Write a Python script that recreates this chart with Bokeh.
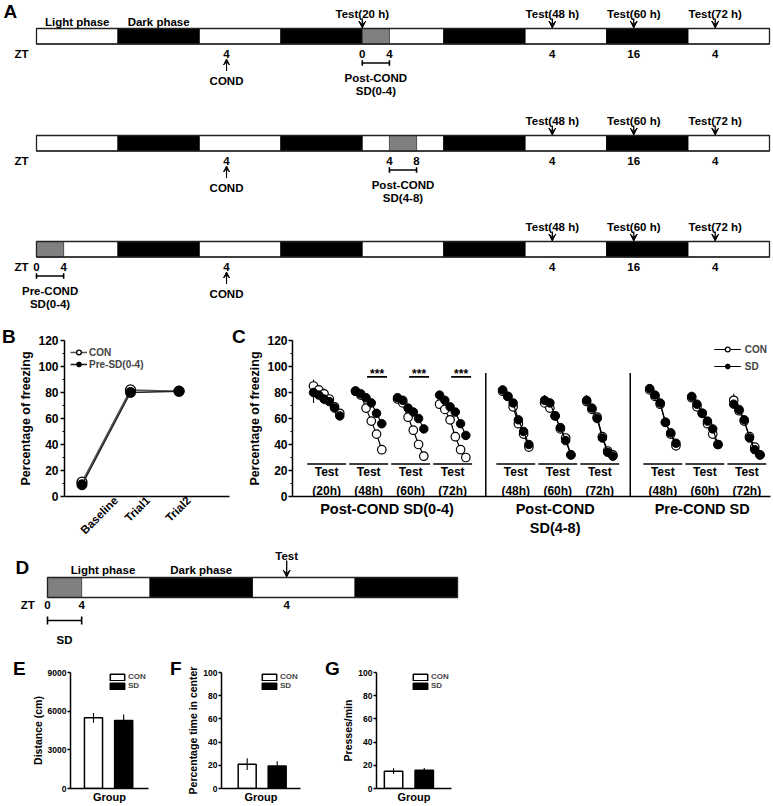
import math
from bokeh.plotting import figure
from bokeh.models import Range1d, FixedTicker, Legend, LegendItem, Arrow, VeeHead, Div
from bokeh.layouts import column, row
from bokeh.core.properties import value
from bokeh.embed import file_html
from bokeh.resources import INLINE

# ============================ DATA ============================
PHASE_HOURS = 12
# Panel A: three protocols, 12-h light/dark phases from ZT0 of day 1
A_phase_kinds = ["light", "dark", "light", "dark", "light", "dark", "light", "dark", "light"]
A_cond_hour = 28                                   # ZT4 of day 2
A_row_tests = [[20, 48, 60, 72], [48, 60, 72], [48, 60, 72]]   # hours after COND
A_row_sd = [(48, 52), (52, 56), (0, 4)]
A_row_sd_text = [["Post-COND", "SD(0-4)"], ["Post-COND", "SD(4-8)"], ["Pre-COND", "SD(0-4)"]]

# Panel D
D_phase_kinds = ["light", "dark", "light", "dark"]
D_sd = (0, 4)
D_test_hour = 28

# Panel B
B_categories = ["Baseline", "Trial1", "Trial2"]
B_con = [11, 82, 81]
B_con_err = [2, 3, 2]
B_pre_sd = [9, 80, 81]
B_pre_sd_err = [1, 2, 2]

# Panel C: six time bins per test session
C_group_names = ["Post-COND SD(0-4)", "Post-COND\nSD(4-8)", "Pre-COND SD"]
C_test_names = ["(20h)", "(48h)", "(60h)", "(72h)", "(48h)", "(60h)", "(72h)", "(48h)", "(60h)", "(72h)"]
C_test_group = [0, 0, 0, 0, 1, 1, 1, 2, 2, 2]
C_con = [
    [85, 82, 79, 75, 69, 64],
    [81, 78, 68, 58, 48, 36],
    [75, 72, 61, 51, 40, 31],
    [71, 67, 59, 46, 36, 30],
    [81, 77, 69, 56, 48, 38],
    [72, 68, 62, 52, 45, 32],
    [73, 67, 61, 46, 35, 32],
    [82, 77, 71, 57, 48, 39],
    [76, 69, 64, 56, 48, 40],
    [74, 66, 58, 46, 38, 32],
]
C_sd = [
    [80, 78, 75, 73, 68, 62],
    [81, 79, 76, 72, 64, 56],
    [76, 74, 68, 65, 60, 52],
    [78, 74, 69, 65, 56, 47],
    [82, 77, 72, 59, 50, 40],
    [74, 72, 62, 53, 43, 32],
    [74, 68, 60, 45, 34, 31],
    [83, 78, 72, 57, 49, 41],
    [77, 71, 64, 58, 52, 40],
    [71, 67, 59, 45, 36, 32],
]
C_con_err = [[5, 3, 4, 2, 2, 2]] + [[2] * 6] * 8 + [[5, 2, 2, 2, 2, 2]]
C_sd_err = [[8, 3, 4, 2, 2, 2], [2] * 6, [2] * 6, [2] * 6, [2] * 6,
            [4, 2, 2, 2, 2, 2], [4, 2, 2, 2, 2, 2], [3, 2, 2, 2, 2, 2], [2] * 6, [2] * 6]
C_significant = [False, True, True, True, False, False, False, False, False, False]

# Panels E-G
E_con, E_con_err, E_sd, E_sd_err = 5480, 380, 5280, 470
F_con, F_con_err, F_sd, F_sd_err = 21, 5, 19.5, 4
G_con, G_con_err, G_sd, G_sd_err = 14.9, 2.5, 15.7, 2

# ============================ STYLE ============================
FONT = "Liberation Sans"
GRAY = "#808080"
TXT = "11.5px"


def bold_text(p, xs, ys, texts, size, align="center", baseline="middle"):
    p.text(x=xs, y=ys, text=texts, text_font=value(FONT), text_font_size=value(size),
           text_font_style=value("bold"), text_align=value(align),
           text_baseline=value(baseline), text_color="black")


def style_axes(p, tick_size, label_size, tick_out=4):
    for ax in p.axis:
        ax.axis_line_width = 1.5
        ax.axis_line_color = "black"
        ax.major_label_text_font = FONT
        ax.major_label_text_font_style = "bold"
        ax.major_label_text_font_size = tick_size
        ax.major_label_text_color = "black"
        ax.axis_label_text_font = FONT
        ax.axis_label_text_font_style = "bold"
        ax.axis_label_text_font_size = label_size
        ax.axis_label_text_color = "black"
        ax.major_tick_line_width = 1.5
        ax.minor_tick_line_width = 1
        ax.major_tick_in = 0
        ax.major_tick_out = tick_out
        ax.minor_tick_in = 0
        ax.minor_tick_out = 2
        ax.major_label_standoff = 2
        ax.axis_label_standoff = 2
    p.grid.visible = False
    p.outline_line_color = None


def plain_fig(width, height, xr, yr):
    p = figure(width=width, height=height, x_range=Range1d(*xr), y_range=Range1d(*yr),
               x_axis_location=None, y_axis_location=None, toolbar_location=None,
               output_backend="svg", min_border=0)
    p.grid.visible = False
    p.outline_line_color = None
    return p


def letter_div(s, width, height, pad_left, pad_top):
    html = ('<div style="font-family:\'Liberation Sans\',Arial,sans-serif;font-weight:bold;'
            f'font-size:19px;line-height:19px;color:#000;margin:0;'
            f'padding-left:{pad_left}px;padding-top:{pad_top}px;">{s}</div>')
    return Div(text=html, width=width, height=height, margin=0)


def draw_bar(p, kinds, top, height, sd):
    n = len(kinds)
    lefts = [i * PHASE_HOURS for i in range(n)]
    rights = [(i + 1) * PHASE_HOURS for i in range(n)]
    fills = ["white" if k == "light" else "black" for k in kinds]
    p.quad(left=lefts, right=rights, top=[top] * n, bottom=[top + height] * n,
           fill_color=fills, line_color="black", line_width=0.8)
    p.quad(left=[sd[0]], right=[sd[1]], top=[top], bottom=[top + height],
           fill_color=GRAY, line_color="#333333", line_width=0.8)
    p.quad(left=[0], right=[n * PHASE_HOURS], top=[top], bottom=[top + height],
           fill_color=None, line_color="#222222", line_width=1.3)


def arrow(p, x, y0, y1, size=7, lw=1.3):
    p.add_layout(Arrow(x_start=x, y_start=y0, x_end=x, y_end=y1, line_width=lw, line_color="black",
                       end=VeeHead(size=size, line_color="black", fill_color="black", line_width=1)))


def bracket(p, x0, x1, y, tick):
    p.segment(x0=[x0, x0, x1], y0=[y, y - tick, y - tick], x1=[x1, x0, x1], y1=[y, y + tick, y + tick],
              line_color="black", line_width=1.6)


# ============================ PANEL A ============================
pA = plain_fig(773, 312, (-5.304, 108.59), (312, 0))
ROW_TOP = [28, 135, 241]
BAR_H = 15.5
for r in range(3):
    T = ROW_TOP[r]
    Bt = T + BAR_H
    s0, s1 = A_row_sd[r]
    draw_bar(pA, A_phase_kinds, T, BAR_H, (s0, s1))
    tests_h = [A_cond_hour + d for d in A_row_tests[r]]
    for h in tests_h:
        arrow(pA, h, T - 10, T - 0.5)
    bold_text(pA, tests_h, [T - 15] * len(tests_h), [f"Test({d} h)" for d in A_row_tests[r]], TXT)
    zt_hours = sorted(set([A_cond_hour, s0, s1] + tests_h))
    bold_text(pA, zt_hours, [Bt + 9.5] * len(zt_hours), [str(h % 24) for h in zt_hours], TXT)
    bold_text(pA, [-2.2], [Bt + 9.5], ["ZT"], TXT)
    arrow(pA, A_cond_hour, Bt + 27, Bt + 15, size=6, lw=1.1)
    bold_text(pA, [A_cond_hour], [Bt + 37], ["COND"], TXT)
    bracket(pA, s0, s1, Bt + 19, 2.8)
    mid = (s0 + s1) / 2
    bold_text(pA, [mid, mid], [Bt + 34, Bt + 47], A_row_sd_text[r], TXT)
bold_text(pA, [0.5 * PHASE_HOURS, 1.5 * PHASE_HOURS], [21, 21], ["Light phase", "Dark phase"], TXT)
bold_text(pA, [-4.85], [11], ["A"], "19px", align="left")

# ============================ PANEL B ============================
ROW_BC_H = 235
pB = figure(width=216, height=ROW_BC_H, x_range=Range1d(0.64, 4.04), y_range=Range1d(0, 120),
            toolbar_location=None, output_backend="svg",
            min_border_left=43, min_border_right=3, min_border_top=28, min_border_bottom=51)
bx = [i + 1 for i in range(len(B_categories))]
pB.segment(x0=bx, y0=[v - e for v, e in zip(B_con, B_con_err)], x1=bx,
           y1=[v + e for v, e in zip(B_con, B_con_err)], line_color="black", line_width=1.2)
pB.segment(x0=bx, y0=[v - e for v, e in zip(B_pre_sd, B_pre_sd_err)], x1=bx,
           y1=[v + e for v, e in zip(B_pre_sd, B_pre_sd_err)], line_color="black", line_width=1.2)
lb1 = pB.line(bx, B_con, line_color="#555555", line_width=1.5)
cb1 = pB.scatter(bx, B_con, size=10, marker="circle", fill_color="white", line_color="black", line_width=1.3)
lb2 = pB.line(bx, B_pre_sd, line_color="#222222", line_width=1.5)
cb2 = pB.scatter(bx, B_pre_sd, size=10, marker="circle", fill_color="black", line_color="black")
style_axes(pB, "12px", "12.5px")
pB.yaxis.ticker = FixedTicker(ticks=list(range(0, 121, 20)), minor_ticks=list(range(10, 120, 20)))
pB.yaxis.axis_label = "Percentage of freezing"
B_label_anchor = [1.7, 2.36, 3.2]   # layout: where each rotated label ends
pB.xaxis.ticker = FixedTicker(ticks=B_label_anchor)
pB.xaxis.major_label_overrides = {a: c for a, c in zip(B_label_anchor, B_categories)}
pB.xaxis.major_label_orientation = math.pi / 4
pB.xaxis.major_tick_out = 0
pB.xaxis.major_label_text_font_size = "11.5px"
legB = Legend(items=[LegendItem(label="CON", renderers=[lb1, cb1]),
                     LegendItem(label="Pre-SD(0-4)", renderers=[lb2, cb2])],
              location="top_left", margin=6, padding=0, spacing=0, glyph_width=17, glyph_height=12,
              label_height=12, label_standoff=2, border_line_color=None, background_fill_alpha=0,
              label_text_font=FONT, label_text_font_style="bold", label_text_font_size="10px")
pB.add_layout(legB)

# ============================ PANEL C ============================
pC = figure(width=528, height=ROW_BC_H, x_range=Range1d(0, 91), y_range=Range1d(0, 120),
            toolbar_location=None, output_backend="svg",
            min_border_left=41, min_border_right=3, min_border_top=28, min_border_bottom=51)
C_cluster_x0 = [4, 12, 20, 28, 40, 48, 56, 68, 76, 84]   # layout
C_separators = [36.8, 64.3]                              # layout
nb = len(C_con[0])
xs_all = [[x0 + i for i in range(nb)] for x0 in C_cluster_x0]
for xs, v, e in zip(xs_all, C_con, C_con_err):
    pC.segment(x0=xs, y0=[a - b for a, b in zip(v, e)], x1=xs, y1=[a + b for a, b in zip(v, e)],
               line_color="black", line_width=1.1)
for xs, v, e in zip(xs_all, C_sd, C_sd_err):
    pC.segment(x0=xs, y0=[a - b for a, b in zip(v, e)], x1=xs, y1=[a + b for a, b in zip(v, e)],
               line_color="black", line_width=1.1)
lc1 = pC.multi_line(xs_all, C_con, line_color="black", line_width=1.2)
cc1 = pC.scatter(sum(xs_all, []), sum(C_con, []), size=8.5, marker="circle", fill_color="white",
                 line_color="black", line_width=1.2)
lc2 = pC.multi_line(xs_all, C_sd, line_color="black", line_width=1.2)
cc2 = pC.scatter(sum(xs_all, []), sum(C_sd, []), size=8.5, marker="circle", fill_color="black",
                 line_color="black")
pC.segment(x0=[x0 - 1.2 for x0 in C_cluster_x0], y0=[25] * 10, x1=[x0 + 6.2 for x0 in C_cluster_x0],
           y1=[25] * 10, line_color="black", line_width=1.6)
tx = [x0 + 2.5 for x0 in C_cluster_x0]
bold_text(pC, tx, [19] * 10, ["Test"] * 10, "12px")
bold_text(pC, tx, [4.5] * 10, C_test_names, "12px")
sig = [x0 for x0, s in zip(C_cluster_x0, C_significant) if s]
pC.segment(x0=[x0 + 2.2 for x0 in sig], y0=[92] * len(sig), x1=[x0 + 6.0 for x0 in sig],
           y1=[92] * len(sig), line_color="black", line_width=1.6)
bold_text(pC, [x0 + 4.1 for x0 in sig], [94] * len(sig), ["***"] * len(sig), "12px")
pC.segment(x0=C_separators, y0=[0, 0], x1=C_separators, y1=[95, 95], line_color="black", line_width=1.5)
style_axes(pC, "12px", "12.5px")
pC.yaxis.ticker = FixedTicker(ticks=list(range(0, 121, 20)), minor_ticks=list(range(10, 120, 20)))
pC.yaxis.axis_label = "Percentage of freezing"
pC.yaxis.major_label_standoff = 1
group_centers = []
for g in range(len(C_group_names)):
    firsts = [x0 for x0, gg in zip(C_cluster_x0, C_test_group) if gg == g]
    group_centers.append(int(round((firsts[0] + firsts[-1] + nb - 1) / 2 - 0.01)))
pC.xaxis.ticker = FixedTicker(ticks=group_centers)
pC.xaxis.major_label_overrides = {c: n for c, n in zip(group_centers, C_group_names)}
pC.xaxis.major_tick_out = 0
pC.xaxis.major_label_text_font_size = "14.5px"
pC.xaxis.major_label_standoff = 4
legC = Legend(items=[LegendItem(label="CON", renderers=[lc1, cc1]),
                     LegendItem(label="SD", renderers=[lc2, cc2])],
              location="top_right", margin=3, padding=0, spacing=5, glyph_width=27, glyph_height=12,
              label_height=12, label_standoff=4, border_line_color=None, background_fill_alpha=0,
              label_text_font=FONT, label_text_font_style="bold", label_text_font_size="10px")
pC.add_layout(legC)

letB = letter_div("B", 16, ROW_BC_H, 2, 15)
letC = letter_div("C", 13, ROW_BC_H, 0, 15)

# ============================ PANEL D ============================
pD = plain_fig(773, 103, (-5.502, 84.99), (650, 547))
DT, DH = 577, 20
draw_bar(pD, D_phase_kinds, DT, DH, D_sd)
arrow(pD, D_test_hour, DT - 17, DT - 0.5)
bold_text(pD, [D_test_hour], [555], ["Test"], TXT)
bold_text(pD, [6.5, 18], [569, 569], ["Light phase", "Dark phase"], TXT)
dzt = sorted(set([D_sd[0], D_sd[1], D_test_hour]))
bold_text(pD, dzt, [604] * len(dzt), [str(h % 24) for h in dzt], TXT)
bold_text(pD, [-2.3], [604], ["ZT"], TXT)
bracket(pD, D_sd[0], D_sd[1], 620, 4)
bold_text(pD, [(D_sd[0] + D_sd[1]) / 2], [639], ["SD"], TXT)
bold_text(pD, [-3.75], [566.5], ["D"], "19px", align="left")

# ============================ PANELS E-G ============================
ROW_EFG_H = 155


def bar_panel(width, bl, br, xr, ymax, yticks, ylabel, con, con_err, sd, sd_err):
    p = figure(width=width, height=ROW_EFG_H, x_range=Range1d(*xr), y_range=Range1d(0, ymax),
               toolbar_location=None, output_backend="svg",
               min_border_left=bl, min_border_right=br, min_border_top=22, min_border_bottom=16)
    r = p.vbar(x=[1, 2], top=[con, sd], width=0.6, fill_color=["white", "black"],
               line_color="black", line_width=1.5)
    p.segment(x0=[1, 2], y0=[con - con_err, sd - sd_err], x1=[1, 2], y1=[con + con_err, sd + sd_err],
              line_color="black", line_width=1.1)
    style_axes(p, "8.5px", "10.5px", tick_out=3)
    p.yaxis.ticker = FixedTicker(ticks=yticks, minor_ticks=[])
    p.yaxis.axis_label = ylabel
    p.yaxis.major_label_standoff = 1
    p.yaxis.axis_label_standoff = 1
    p.xaxis.ticker = FixedTicker(ticks=[])
    p.xaxis.axis_label = "Group"
    p.xaxis.axis_label_text_font_size = "11px"
    p.xaxis.axis_label_standoff = 2
    leg = Legend(items=[LegendItem(label="CON", renderers=[r], index=0),
                        LegendItem(label="SD", renderers=[r], index=1)],
                 location="top_right", margin=0, padding=0, spacing=0, glyph_width=18, glyph_height=8,
                 label_height=8, label_standoff=2, border_line_color=None, background_fill_alpha=0,
                 label_text_font=FONT, label_text_font_style="bold", label_text_font_size="8px")
    p.add_layout(leg)
    return p


pE = bar_panel(142, 36, 22, (0.238, 2.823), 9000, [0, 3000, 6000, 9000], "Distance (cm)",
               E_con, E_con_err, E_sd, E_sd_err)
pF = bar_panel(141, 33, 25, (0.143, 2.778), 100, [0, 20, 40, 60, 80, 100], "Percentage time in center",
               F_con, F_con_err, F_sd, F_sd_err)
pG = bar_panel(136, 35, 24, (0.444, 2.889), 100, [0, 20, 40, 60, 80, 100], "Presses/min",
               G_con, G_con_err, G_sd, G_sd_err)
letE = letter_div("E", 28, ROW_EFG_H, 13, 9)
letF = letter_div("F", 14, ROW_EFG_H, 0, 9)
letG = letter_div("G", 14, ROW_EFG_H, 0, 9)

layout = column(pA,
                row(letB, pB, letC, pC),
                pD,
                row(letE, pE, letF, pF, letG, pG))
open("out.html", "w").write(file_html(layout, INLINE, title="Figure"))
